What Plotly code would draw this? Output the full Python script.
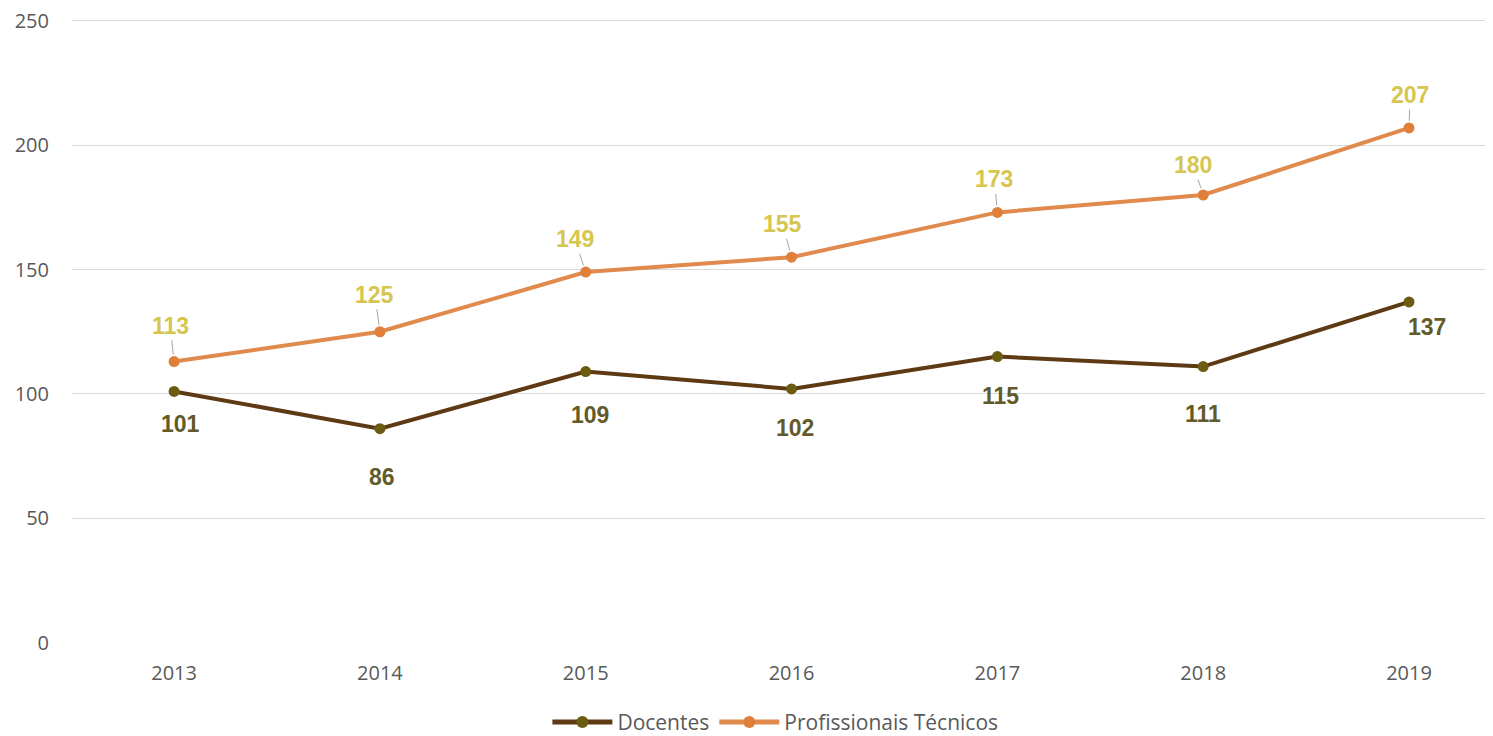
import plotly.graph_objects as go

years = [2013, 2014, 2015, 2016, 2017, 2018, 2019]
docentes = [101, 86, 109, 102, 115, 111, 137]
tecnicos = [113, 125, 149, 155, 173, 180, 207]
series_names = ["Docentes", "Profissionais Técnicos"]
y_ticks = [0, 50, 100, 150, 200, 250]

# label offsets (px) relative to each point
doc_offsets = [(6, 33), (2, 48), (4, 43), (3, 39), (3, 39), (0, 47), (18, 25)]
tec_offsets = [(-4, -36), (-5, -37), (-11, -33), (-9, -33), (-3, -33), (-10, -30), (1, -33)]

DOC_LINE = "#5e3a14"
DOC_MARK = "#6b5c12"
TEC_LINE = "#e08a4e"
TEC_MARK = "#e07f3a"
DOC_LBL = "#625a28"
TEC_LBL = "#d6c650"

fig = go.Figure()
fig.add_trace(go.Scatter(
    x=years, y=docentes, name=series_names[0], mode="lines+markers",
    line=dict(color=DOC_LINE, width=4),
    marker=dict(color=DOC_MARK, size=11),
))
fig.add_trace(go.Scatter(
    x=years, y=tecnicos, name=series_names[1], mode="lines+markers",
    line=dict(color=TEC_LINE, width=4),
    marker=dict(color=TEC_MARK, size=11),
))

lbl_font = "Liberation Sans, Arial, sans-serif"
for x, v, (dx, dy) in zip(years, docentes, doc_offsets):
    fig.add_annotation(x=x, y=v, text=str(v), showarrow=False,
                       xshift=dx, yshift=-dy,
                       font=dict(family=lbl_font, size=23, color=DOC_LBL, weight="bold"))
for x, v, (dx, dy) in zip(years, tecnicos, tec_offsets):
    fig.add_annotation(x=x, y=v, text=str(v), showarrow=True,
                       arrowhead=0, arrowwidth=1, arrowcolor="#a6a6a6",
                       ax=dx, ay=dy, standoff=7,
                       font=dict(family=lbl_font, size=23, color=TEC_LBL, weight="bold"))

fig.update_layout(
    width=1485, height=728,
    margin=dict(l=64, r=0, t=10, b=93, autoexpand=False),
    paper_bgcolor="white", plot_bgcolor="white",
    font=dict(family="Open Sans, sans-serif", size=20, color="#595959"),
    showlegend=True,
    legend=dict(orientation="h", x=0.495, xanchor="center", y=-0.127, yanchor="middle",
                font=dict(size=21, color="#595959"), itemwidth=60, traceorder="normal",
                tracegroupgap=0, itemsizing="constant"),
    xaxis=dict(range=[2012.504, 2019.408], tickvals=years, ticktext=[str(y) for y in years],
               showgrid=False, zeroline=False, showline=False, ticks="", automargin=False,
               ticklabelstandoff=16, tickfont=dict(size=20, color="#595959")),
    yaxis=dict(range=[-0.2, 251.2], tickvals=y_ticks, showgrid=True, gridcolor="#d9d9d9",
               gridwidth=1, zeroline=False, showline=False, ticks="", automargin=False,
               ticklabeloverflow="allow",
               ticklabelstandoff=22, tickfont=dict(size=20, color="#595959")),
)

fig.write_html("out.html")
